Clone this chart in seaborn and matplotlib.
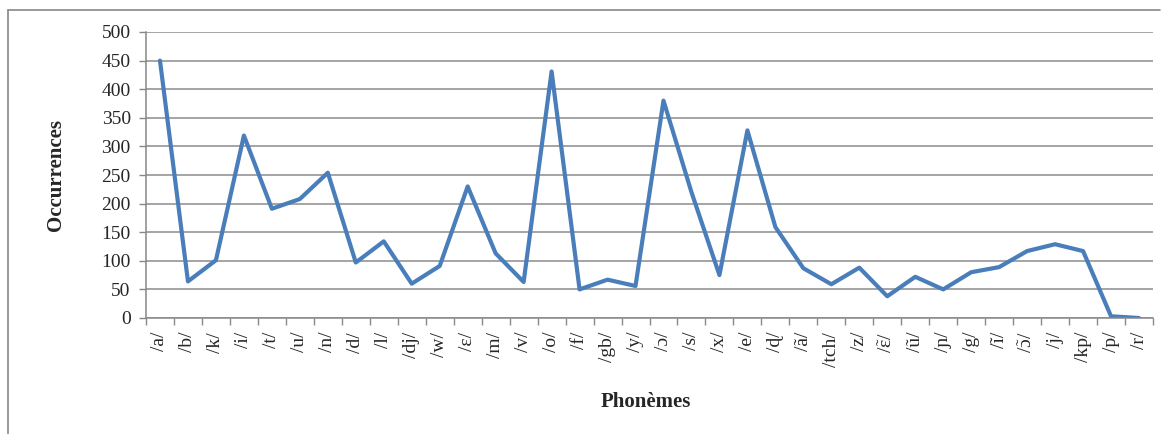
import numpy as np
import pandas as pd
import matplotlib
matplotlib.use("Agg")
import matplotlib.pyplot as plt
import seaborn as sns
from matplotlib.lines import Line2D

phonemes = ["/a/", "/b/", "/k/", "/i/", "/t/", "/u/", "/n/", "/d/", "/l/", "/dj/",
            "/w/", "/ɛ/", "/m/", "/v/", "/o/", "/f/", "/gb/", "/y/", "/ɔ/", "/s/",
            "/x/", "/e/", "/ɖ/", "/ã/", "/tch/", "/z/", r"/$\tilde{\mathrm{ɛ}}$/", "/ũ/", "/ɲ/", "/g/",
            "/ĩ/", r"/$\tilde{\mathrm{ɔ}}$/", "/j/", "/kp/", "/p/", "/r/"]
occurrences = [450, 64, 101, 319, 191, 208, 254, 97, 134, 60,
               91, 230, 113, 63, 431, 50, 67, 56, 380, 220,
               75, 328, 159, 87, 59, 88, 38, 72, 50, 80,
               89, 117, 129, 117, 3, 0]
y_ticks = list(range(0, 501, 50))

df = pd.DataFrame({"pos": np.arange(len(phonemes)), "Occurrences": occurrences})

sns.set_theme(style="white")
plt.rcParams['font.family'] = ['Liberation Serif', 'DejaVu Serif']
plt.rcParams['mathtext.fontset'] = 'custom'
plt.rcParams['mathtext.rm'] = 'Liberation Serif'
plt.rcParams['mathtext.it'] = 'Liberation Serif:italic'
plt.rcParams['mathtext.bf'] = 'Liberation Serif:bold'

fig = plt.figure(figsize=(11.75, 4.34), dpi=100)
ax = fig.add_axes([146 / 1175, 1 - 318 / 434, (1153 - 146) / 1175, (318 - 32) / 434])

sns.lineplot(data=df, x="pos", y="Occurrences", color="#4a7ebb", linewidth=3.0,
             sort=False, ax=ax)

ax.set_xlim(-0.5, len(phonemes) - 0.5)
ax.set_ylim(0, 500)
ax.set_yticks(y_ticks)
ax.set_yticklabels([str(v) for v in y_ticks], fontsize=14)

# major ticks between categories (marks only), minor ticks at centres (labels only)
ax.set_xticks(np.arange(-0.5, len(phonemes)), minor=False)
ax.set_xticklabels([])
ax.set_xticks(np.arange(len(phonemes)), minor=True)
ax.set_xticklabels(phonemes, minor=True, rotation=90, fontsize=14, va="top")
ax.tick_params(axis="x", which="major", direction="out", length=5, width=1, color="#888888", bottom=True)
ax.tick_params(axis="x", which="minor", length=0, pad=10)
ax.tick_params(axis="y", direction="out", length=5, width=1, color="#888888", left=True, pad=6)

ax.grid(True, axis="y", color="#8c8c8c", linewidth=1.1)
ax.set_axisbelow(True)
for side in ["top", "right"]:
    ax.spines[side].set_visible(False)
for side in ["left", "bottom"]:
    ax.spines[side].set_color("#888888")
    ax.spines[side].set_linewidth(1.1)

ax.set_xlabel("Phonèmes", fontsize=15, fontweight="bold")
ax.set_ylabel("Occurrences", fontsize=15, fontweight="bold")
ax.xaxis.set_label_coords(0.496, -(402 - 318) / (318 - 32))
ax.yaxis.set_label_coords(-(146 - 56) / (1153 - 146), 0.5)
ax.xaxis.label.set_va("center")
ax.yaxis.label.set_va("center")

# outer chart frame
fig.add_artist(Line2D([8 / 1175, 8 / 1175], [0, 1 - 10 / 434], color="#888888", linewidth=1.2))
fig.add_artist(Line2D([8 / 1175, 1160 / 1175], [1 - 10 / 434, 1 - 10 / 434], color="#888888", linewidth=1.2))

fig.savefig("out.png", dpi=100)
